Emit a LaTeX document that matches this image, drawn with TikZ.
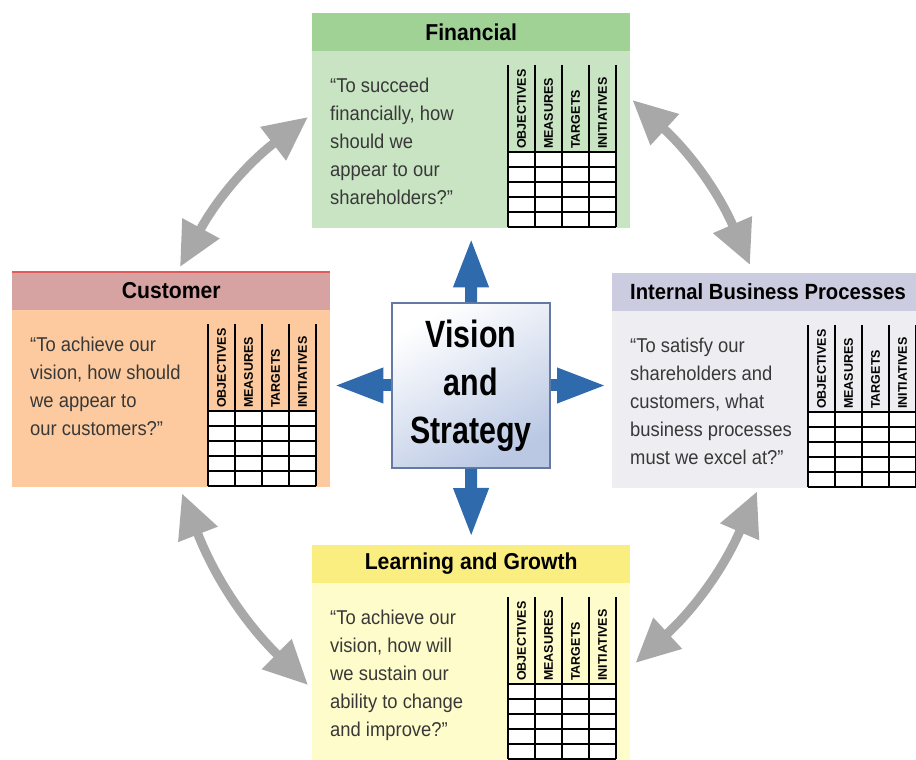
\documentclass[tikz,border=0pt]{standalone}
\usepackage{fontspec}
\usetikzlibrary{arrows.meta,calc}
\setmainfont{Liberation Sans}
\newfontfamily\bscfont[FakeStretch=0.92]{Liberation Sans}
\newfontfamily\vsfont[FakeStretch=0.8]{Liberation Sans}

\definecolor{finhead}{RGB}{160,210,150}
\definecolor{finbody}{RGB}{200,228,194}
\definecolor{custhead}{RGB}{214,162,162}
\definecolor{custbody}{RGB}{252,202,158}
\definecolor{custline}{RGB}{226,92,92}
\definecolor{ibphead}{RGB}{204,204,224}
\definecolor{ibpbody}{RGB}{238,238,242}
\definecolor{learnhead}{RGB}{250,238,128}
\definecolor{learnbody}{RGB}{255,252,204}
\definecolor{vsblue}{RGB}{46,106,172}
\definecolor{vsedge}{RGB}{100,122,164}
\definecolor{vsshade}{RGB}{186,200,228}
\definecolor{linkgray}{RGB}{168,168,168}

\tikzset{
    persp/.style={rectangle, inner sep=0, anchor=north west, minimum width=318pt, minimum height=215pt, fill=#1},
    heading/.style={inner sep=0, font={\bscfont\bfseries\fontsize{23}{26}\selectfont}},
    bodytext/.style={anchor=north west, inner sep=0, align=left, text=black!78, font={\bscfont\fontsize{20}{28}\selectfont}},
    collabel/.style={rotate=90, anchor=west, inner sep=0, font={\bfseries\fontsize{12.5}{12.5}\selectfont}},
    flow/.style={draw=vsblue, line width=12pt, arrows={-Triangle[length=50pt,width=32pt]}},
    link/.style={draw=linkgray, line width=9pt, arrows={Triangle[length=44pt,width=40pt]-Triangle[length=44pt,width=40pt]}},
    bsctable/.pic={
        \fill[white] (0,-87) rectangle (108,-162);
        \foreach \r in {0,...,5}
            \draw[line width=2pt] (0,-87-15*\r) -- (108,-87-15*\r);
        \foreach \c in {0,...,4}
            \draw[line width=1.4pt] (27*\c,0) -- (27*\c,-162);
        \foreach \lbl [count=\i] in {OBJECTIVES,MEASURES,TARGETS,INITIATIVES}
            \node[collabel] at (27*\i-13.5,-84) {\lbl};
    }
}

\begin{document}
\begin{tikzpicture}[x=1pt, y=1pt]
        \useasboundingbox (0,0) rectangle (916,760);

        \node[persp=finbody] (fin) at (312,747) {};
        \node[persp=custbody] (cust) at (12,488) {};
        \node[persp=ibpbody, minimum width=304pt] (ibp) at (612,487) {};
        \node[persp=learnbody] (learn) at (312,215) {};

        \fill[finhead] (fin.north west) rectangle ([yshift=-38pt]fin.north east);
        \fill[custhead] (cust.north west) rectangle ([yshift=-38pt]cust.north east);
        \draw[custline, line width=2pt] (cust.north west) -- (cust.north east);
        \fill[ibphead] (ibp.north west) rectangle ([yshift=-38pt]ibp.north east);
        \fill[learnhead] (learn.north west) rectangle ([yshift=-38pt]learn.north east);

        \node[heading] (finh) at ([yshift=-19pt]fin.north) {Financial};
        \node[heading] (custh) at ([yshift=-19pt]cust.north) {Customer};
        \node[heading, anchor=west, font={\bscfont\bfseries\fontsize{22}{26}\selectfont}] (ibph) at ([shift={(18,-19)}]ibp.north west) {Internal Business Processes};
        \node[heading] (learnh) at ([yshift=-19pt]learn.north) {Learning and Growth};

        \node[bodytext] (fint) at ([shift={(18,-65)}]fin.north west) {“To succeed\\financially, how\\should we\\appear to our\\shareholders?”};
        \node[bodytext] (custt) at ([shift={(18,-65)}]cust.north west) {“To achieve our\\vision, how should\\we appear to\\our customers?”};
        \node[bodytext] (ibpt) at ([shift={(18,-65)}]ibp.north west) {“To satisfy our\\shareholders and\\customers, what\\business processes\\must we excel at?”};
        \node[bodytext] (learnt) at ([shift={(18,-65)}]learn.north west) {“To achieve our\\vision, how will\\we sustain our\\ability to change\\and improve?”};

        \pic at ([shift={(196,-52)}]fin.north west) {bsctable};
        \pic at ([shift={(196,-52)}]cust.north west) {bsctable};
        \pic at ([shift={(196,-52)}]ibp.north west) {bsctable};
        \pic at ([shift={(196,-52)}]learn.north west) {bsctable};

        \node[draw=vsedge, line width=1.5pt, top color=white, bottom color=vsshade, shading angle=30,
              minimum width=158pt, minimum height=165pt, inner sep=0, align=center,
              font={\vsfont\bfseries\fontsize{38}{48}\selectfont}] (vs) at (471,374.5) {Vision\\and\\Strategy};

        \draw[flow] (vs.north) -- ([yshift=-9pt]fin.south);
        \draw[flow] (vs.south) -- ([yshift=7pt]learn.north);
        \draw[flow] (vs.west) -- ($(vs.west -| cust.east)+(3,0)$);
        \draw[flow] (vs.east) -- ($(vs.east -| ibp.west)+(-5,0)$);

        \draw[link] ([shift={(-4,-104)}]fin.north west) to[bend right=12] ([shift={(168,5)}]cust.north west);
        \draw[link] ([shift={(2,-87)}]fin.north east) to[bend left=12] ([shift={(138,8)}]ibp.north west);
        \draw[link] ([shift={(170,-6)}]cust.south west) to[bend right=12] ([shift={(-4,-140)}]learn.north west);
        \draw[link] ([shift={(145,-3)}]ibp.south west) to[bend left=12] ([shift={(5,-118)}]learn.north east);
\end{tikzpicture}
\end{document}
